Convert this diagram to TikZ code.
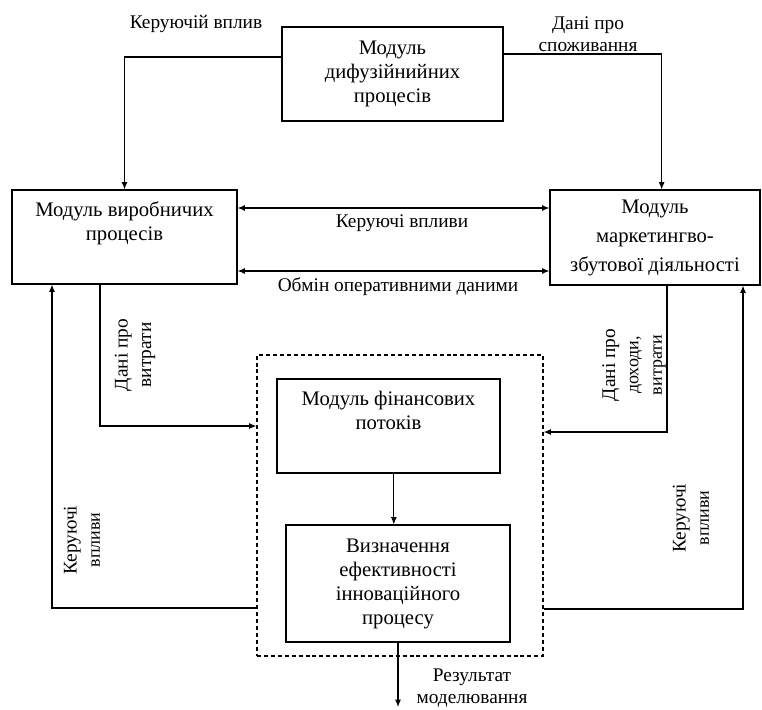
\documentclass[tikz,border=0pt]{standalone}
\usepackage{fontspec}
\setmainfont{Liberation Serif}
\usetikzlibrary{arrows.meta, positioning, calc}
\tikzset{
  modbox/.style={draw, line width=0.85pt, inner sep=0pt, align=center, font=\fontsize{15.5}{18}\selectfont},
  modtext/.style={align=center, inner sep=0pt, font=\fontsize{15.5}{18}\selectfont},
  lbl/.style={align=center, inner sep=0pt, font=\fontsize{14.5}{16.5}\selectfont},
  vlbl/.style={align=center, inner sep=0pt, rotate=90, font=\fontsize{14.5}{17.5}\selectfont},
  ln/.style={line width=0.85pt},
  arr/.style={line width=0.85pt, -{Latex[length=5.5pt,width=4.5pt]}},
  dblarr/.style={line width=0.85pt, {Latex[length=5.5pt,width=4.5pt]}-{Latex[length=5.5pt,width=4.5pt]}}
}
\newcommand{\smalltxt}[1]{{\fontsize{13.5}{17.5}\selectfont #1}}
\begin{document}
\begin{tikzpicture}[x=0.75pt, y=-0.75pt]
        \useasboundingbox (0,0) rectangle (762,709);
        \node[modbox, minimum width=165.75pt, minimum height=70.5pt] (dif) at (392.5,74) {Модуль\\дифузійнийних\\процесів};
        \node[modbox, minimum width=168.75pt, minimum height=70.5pt] (vyr) at (124.5,237) {};
        \node[modtext] (vyrtxt) at (124.5,223) {Модуль виробничих\\процесів};
        \node[modbox, minimum width=157.5pt, minimum height=71.25pt, font=\fontsize{15.5}{21.75}\selectfont] (mar) at (655,237.5) {Модуль\\маркетингво-\\збутової діяльності};
        \node[draw, dashed, dash pattern=on 3pt off 2.2pt, line width=0.85pt, minimum width=214.5pt, minimum height=225.75pt] (grp) at (400,505.5) {};
        \node[modbox, minimum width=167.25pt, minimum height=70.5pt] (fin) at (388.5,426) {};
        \node[modtext] (fintxt) at (388.5,410) {Модуль фінансових\\потоків};
        \node[modbox, minimum width=168pt, minimum height=87.75pt] (eval) at (398,583.5) {Визначення\\ефективності\\інноваційного\\процесу};
        \coordinate (res) at (398,707);

        \draw[arr] ([yshift=12.75pt]dif.west) -| (vyr.north);
        \draw[arr] ([yshift=15pt]dif.east) -| ([xshift=5pt]mar.north);
        \draw[dblarr] ([yshift=21.75pt]vyr.east) -- ([yshift=21.75pt]vyr.east -| mar.west);
        \draw[dblarr] ([yshift=-25.5pt]vyr.east) -- ([yshift=-25.5pt]vyr.east -| mar.west);
        \draw[arr] ([xshift=-18.4pt]vyr.south) |- ([yshift=59.6pt]grp.west);
        \draw[arr] ([yshift=-76.9pt]grp.west) -| ([xshift=-54.4pt]vyr.south);
        \draw[arr] ([xshift=9pt]mar.south) |- ([yshift=55.1pt]grp.east);
        \draw[arr] ([yshift=-77.6pt]grp.east) -| ([xshift=66pt]mar.south);
        \draw[arr] ([xshift=4pt]fin.south) -- ([xshift=4pt]fin.south |- eval.north);
        \draw[arr] (eval.south) -- (res);

        \node[lbl] (lkv) at (196,24) {Керуючій вплив};
        \node[lbl] (ldp) at (588,34) {Дані про\\споживання};
        \node[lbl] (lkvm) at (402,223) {Керуючі впливи};
        \node[lbl] (lobm) at (398,287) {Обмін оперативними даними};
        \node[vlbl] (ldv) at (135,355) {Дані про\\витрати};
        \node[vlbl] (lkvl) at (82,540) {Керуючі\\\smalltxt{впливи}};
        \node[vlbl] (ldd) at (634,365) {Дані про\\\smalltxt{доходи,}\\\smalltxt{витрати}};
        \node[vlbl] (lkvr) at (691,518) {Керуючі\\\smalltxt{впливи}};
        \node[lbl] (lres) at (472,688) {Результат\\моделювання};
      \end{tikzpicture}
\end{document}
